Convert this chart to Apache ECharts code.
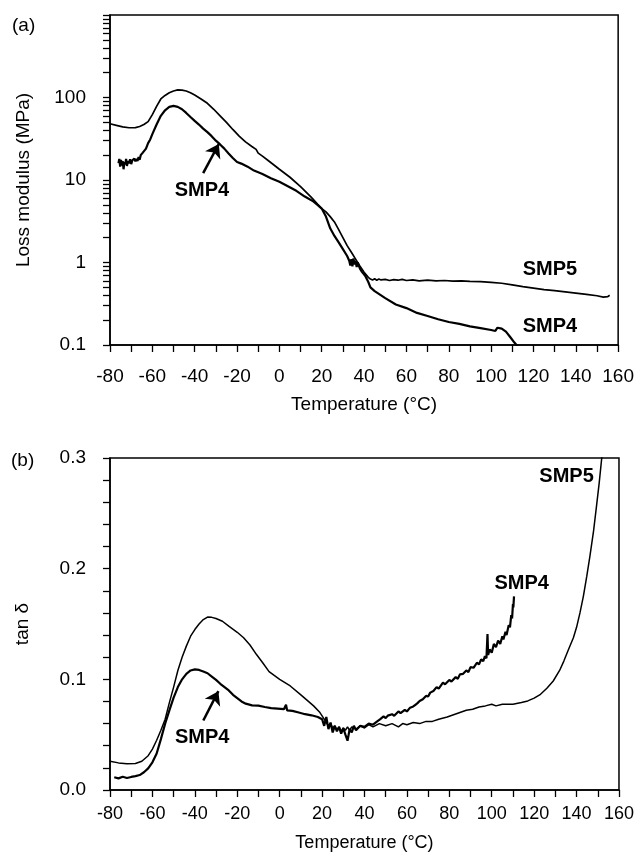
<!DOCTYPE html>
<html>
<head>
<meta charset="utf-8">
<script src="https://cdn.jsdelivr.net/npm/echarts@6/dist/echarts.min.js"></script>
<style>
  html, body { margin: 0; padding: 0; background: #fff; }
  #main { width: 637px; height: 857px; }
</style>
</head>
<body>
<div id="main"></div>
<script>
// (a) loss modulus, MPa, vs temperature
const smp5Modulus = [
  [-80, 48], [-77, 46], [-74, 44], [-71, 43], [-68, 43.2], [-66, 44.5], [-64, 47],
  [-62, 51], [-60, 62], [-58, 78], [-56, 96], [-54, 106], [-52, 114], [-50, 120],
  [-48, 123.5], [-46, 123], [-44, 120], [-42, 114], [-40, 107], [-37, 96], [-34, 85],
  [-31, 72], [-28, 60], [-25, 50], [-22, 41], [-19, 34], [-16, 29], [-13, 25.5],
  [-11, 23.5], [-10, 21.2], [-8, 19.5], [-5, 17], [0, 13.5], [5, 10.8], [10, 8.3],
  [15, 6.2], [18, 5.1], [20, 4.5], [22, 4.1], [24, 3.6], [26, 3.1], [28, 2.5],
  [30, 2.0], [32, 1.6], [34, 1.33], [36, 1.1], [38, 0.91], [40, 0.76], [42, 0.66],
  [43, 0.63], [44, 0.615], [45, 0.635], [46, 0.61], [47, 0.63], [48, 0.615],
  [50, 0.625], [52, 0.605], [54, 0.62], [56, 0.61], [58, 0.625], [60, 0.605],
  [63, 0.615], [66, 0.6], [70, 0.61], [74, 0.6], [78, 0.605], [82, 0.595], [86, 0.6],
  [90, 0.59], [95, 0.585], [100, 0.575], [105, 0.56], [110, 0.535], [115, 0.51],
  [120, 0.49], [125, 0.47], [130, 0.455], [135, 0.44], [140, 0.425], [145, 0.41],
  [150, 0.395], [153, 0.38], [155, 0.385], [156, 0.4]
];
const smp4Modulus = [
  [-76, 16], [-75.6, 18], [-75.2, 14.5], [-74.8, 17.5], [-74.4, 15], [-74, 17],
  [-73.6, 13.5], [-73.2, 16.5], [-72.8, 15.5], [-72.4, 18], [-72, 14.8], [-71.5, 17],
  [-71, 16], [-70.5, 17.8], [-70, 15.6], [-69.5, 17.2], [-69, 16.4], [-68.5, 18.2],
  [-68, 16.8], [-67.5, 18], [-67, 17], [-66.5, 19], [-66, 17.6], [-65.5, 20], [-65, 19],
  [-64.5, 21.5], [-64, 22], [-63, 24], [-62, 28], [-61, 31], [-60, 36], [-58, 47],
  [-56, 60], [-54, 70], [-52, 77], [-50, 79], [-48, 77], [-46, 72], [-44, 65],
  [-42, 58], [-40, 52], [-38, 47], [-36, 42], [-34, 38], [-32, 34], [-30, 30],
  [-28, 27], [-26, 24], [-24, 21], [-22, 18.5], [-20, 16.5], [-18, 15.8], [-15, 14.5],
  [-12, 13], [-8, 11.8], [-4, 10.5], [0, 9.5], [4, 8.4], [8, 7.4], [12, 6.3],
  [16, 5.5], [18, 5.0], [20, 4.5], [22, 3.6], [24, 2.6], [26, 2.1], [28, 1.75],
  [30, 1.45], [32, 1.2], [33, 1.05], [33.5, 0.92], [34, 1.1], [34.5, 0.9], [35, 1.12],
  [35.5, 0.95], [36, 1.05], [36.5, 0.88], [37, 1.0], [38, 0.85], [39, 0.77],
  [40.5, 0.69], [42, 0.58], [43, 0.5], [45, 0.45], [50, 0.37], [55, 0.31], [60, 0.28],
  [65, 0.245], [70, 0.225], [75, 0.205], [80, 0.19], [85, 0.18], [90, 0.168],
  [95, 0.16], [100, 0.152], [102, 0.148], [103, 0.162], [105, 0.158], [107, 0.145],
  [109, 0.125], [111, 0.107], [112, 0.1], [113, 0.095]
];

// (b) tan delta vs temperature
const smp5Tan = [
  [-80, 0.026], [-76, 0.0245], [-72, 0.0238], [-68, 0.024], [-65, 0.026], [-62, 0.031],
  [-60, 0.037], [-58, 0.045], [-56, 0.054], [-54, 0.064], [-52, 0.079], [-50, 0.093],
  [-48, 0.108], [-46, 0.12], [-44, 0.13], [-42, 0.139], [-40, 0.145], [-38, 0.15],
  [-36, 0.154], [-34, 0.1563], [-32, 0.156], [-30, 0.155], [-27, 0.1525], [-24, 0.148],
  [-20, 0.1425], [-17, 0.1376], [-14, 0.131], [-11, 0.1226], [-8, 0.115], [-5, 0.107],
  [0, 0.1], [5, 0.094], [10, 0.086], [13, 0.081], [16, 0.076], [19, 0.07], [21, 0.064],
  [22, 0.061], [23, 0.058], [24, 0.06], [25, 0.056], [26, 0.058], [27, 0.054],
  [28, 0.057], [29, 0.053], [30, 0.056], [31, 0.054], [32, 0.057], [33, 0.054],
  [34, 0.057], [36, 0.055], [38, 0.058], [40, 0.056], [42, 0.059], [44, 0.057],
  [47, 0.06], [50, 0.058], [53, 0.06], [56, 0.057], [58, 0.06], [60, 0.059],
  [63, 0.061], [66, 0.06], [69, 0.062], [72, 0.062], [75, 0.064], [79, 0.066],
  [82, 0.068], [85, 0.07], [88, 0.072], [91, 0.073], [94, 0.075], [97, 0.076],
  [100, 0.0775], [102, 0.076], [105, 0.0775], [110, 0.0775], [114, 0.079],
  [117, 0.0805], [120, 0.083], [123, 0.0865], [126, 0.092], [129, 0.0985],
  [132, 0.108], [134, 0.1165], [136, 0.126], [138.5, 0.1376], [140, 0.147],
  [141.6, 0.16], [143.2, 0.175], [144.8, 0.193], [146.3, 0.2114], [148, 0.234],
  [149.4, 0.2565], [150.7, 0.278], [151.8, 0.2987], [152, 0.302]
];
const smp4Tan = [
  [-78, 0.0115], [-76, 0.0105], [-74, 0.012], [-72, 0.0108], [-70, 0.0118],
  [-68, 0.0125], [-66, 0.0135], [-64, 0.016], [-62, 0.0195], [-60, 0.025],
  [-58, 0.033], [-56, 0.046], [-54, 0.06], [-52, 0.072], [-50, 0.0834], [-48, 0.093],
  [-46, 0.1], [-44, 0.105], [-42, 0.108], [-40, 0.109], [-38, 0.1085], [-36, 0.107],
  [-34, 0.1055], [-32, 0.1025], [-30, 0.0995], [-28, 0.096], [-26, 0.093], [-24, 0.09],
  [-22, 0.086], [-20, 0.083], [-18, 0.08], [-16, 0.078], [-13, 0.0765], [-10, 0.0762],
  [-7, 0.075], [-4, 0.074], [-1, 0.0735], [2, 0.073], [3, 0.077], [3.5, 0.072],
  [6, 0.0715], [9, 0.07], [12, 0.0685], [15, 0.0675], [18, 0.066], [20, 0.064],
  [21, 0.058], [22, 0.066], [23, 0.055], [24, 0.061], [25, 0.052], [26, 0.058],
  [27, 0.053], [28, 0.057], [29, 0.051], [30, 0.056], [31, 0.05], [32, 0.0445],
  [33, 0.055], [34, 0.052], [35, 0.058], [36, 0.054], [38, 0.058], [40, 0.057],
  [42, 0.06], [44, 0.059], [46, 0.062], [47.3, 0.0638], [49, 0.0665], [50, 0.065],
  [51, 0.0672], [53, 0.0685], [54, 0.067], [56, 0.071], [57, 0.0695], [59, 0.0725],
  [60, 0.071], [61.5, 0.0744], [63, 0.0755], [64, 0.077], [65, 0.0785], [66, 0.0804],
  [67.5, 0.082], [69, 0.085], [70, 0.0845], [71, 0.088], [72.5, 0.0895], [74, 0.093],
  [75, 0.0915], [77, 0.097], [78, 0.0955], [80, 0.0995], [81, 0.098], [83, 0.102],
  [84, 0.1005], [85, 0.1045], [86.5, 0.105], [88, 0.108], [89, 0.1065], [90, 0.111],
  [91.5, 0.1105], [93, 0.115], [94, 0.1135], [95, 0.118], [96, 0.1165], [96.8, 0.121],
  [97.5, 0.119], [98, 0.141], [98.3, 0.122], [99, 0.127], [100, 0.124], [101, 0.132],
  [102, 0.129], [103, 0.135], [104, 0.132], [105, 0.139], [105.5, 0.136],
  [106.5, 0.143], [107, 0.14], [108, 0.149], [108.6, 0.147], [109.2, 0.158],
  [109.6, 0.155], [110, 0.168], [110.2, 0.165], [110.5, 0.175]
];

const modDecades = [0.1, 1, 10, 100];
const modTicks = [];
[0.1, 1, 10, 100].forEach(d => {
  for (let k = 1; k <= 9; k++) modTicks.push(+(d * k).toPrecision(3));
});
modTicks.push(1000);

const font = "'Liberation Sans', Arial, sans-serif";
const black = "#000";

const chart = echarts.init(document.getElementById("main"));

const axisLine = { show: true, onZero: false, lineStyle: { color: black, width: 1.5 } };
const tick = { show: true, length: 7, lineStyle: { color: black, width: 1.3 } };

function tempAxis(grid, margin, gap, size) {
  return {
    type: "value",
    gridIndex: grid,
    min: -80,
    max: 160,
    interval: 10,
    name: "Temperature (°C)",
    nameLocation: "middle",
    nameGap: gap,
    nameTextStyle: { fontFamily: font, fontSize: size, color: black },
    axisLine: axisLine,
    axisTick: tick,
    splitLine: { show: false },
    axisLabel: {
      margin: margin,
      fontFamily: font,
      fontSize: size,
      color: black,
      formatter: v => (v % 20 === 0 ? String(v) : ""),
    },
  };
}

function label(text, coord) {
  return { name: text, coord: coord, symbolSize: 1 };
}

const markLabel = {
  show: true,
  position: "inside",
  formatter: "{b}",
  fontFamily: font,
  fontSize: 20,
  fontWeight: "bold",
  color: black,
};

function arrow(from, to) {
  return {
    silent: true,
    symbol: ["none", "arrow"],
    symbolSize: 13,
    label: { show: false },
    lineStyle: { color: black, width: 2.5, type: "solid" },
    emphasis: { disabled: true },
    data: [[{ coord: from }, { coord: to }]],
  };
}

function marks(items) {
  return {
    silent: true,
    symbol: "rect",
    itemStyle: { color: "rgba(0,0,0,0)" },
    label: markLabel,
    data: items,
  };
}

const option = {
  animation: false,
  backgroundColor: "#fff",
  textStyle: { fontFamily: font },
  graphic: [
    { type: "text", left: 12, top: 16, style: { text: "(a)", font: "19px " + font, fill: black } },
    { type: "text", left: 11, top: 451, style: { text: "(b)", font: "19px " + font, fill: black } },
  ],
  grid: [
    { left: 110, top: 15, width: 509, height: 330, show: true, borderColor: black, borderWidth: 1.5 },
    { left: 110, top: 458, width: 509, height: 332, show: true, borderColor: black, borderWidth: 1.5 },
  ],
  xAxis: [tempAxis(0, 22, 50, 19), tempAxis(1, 15, 44, 18)],
  yAxis: [
    {
      type: "log",
      logBase: 10,
      gridIndex: 0,
      min: 0.1,
      max: 1000,
      name: "Loss modulus (MPa)",
      nameLocation: "middle",
      nameGap: 77,
      nameTextStyle: { fontFamily: font, fontSize: 19, color: black },
      axisLine: axisLine,
      axisTick: Object.assign({}, tick, { customValues: modTicks }),
      minorTick: { show: false },
      splitLine: { show: false },
      axisLabel: {
        customValues: modDecades,
        margin: 24,
        fontFamily: font,
        fontSize: 19,
        color: black,
        formatter: v => String(v),
      },
    },
    {
      type: "value",
      gridIndex: 1,
      min: 0,
      max: 0.3,
      interval: 0.02,
      name: "tan δ",
      nameLocation: "middle",
      nameGap: 78,
      nameTextStyle: { fontFamily: font, fontSize: 19, color: black },
      axisLine: axisLine,
      axisTick: tick,
      splitLine: { show: false },
      axisLabel: {
        margin: 24,
        fontFamily: font,
        fontSize: 19,
        color: black,
        formatter: v => {
          const t = Math.round(v * 100);
          return t % 10 === 0 ? (t / 100).toFixed(1) : "";
        },
      },
    },
  ],
  series: [
    {
      name: "SMP5",
      type: "line",
      xAxisIndex: 0,
      yAxisIndex: 0,
      showSymbol: false,
      symbol: "none",
      lineStyle: { color: black, width: 1.7 },
      emphasis: { disabled: true },
      data: smp5Modulus,
      markPoint: marks([label("SMP5", [127.8, 0.83])]),
    },
    {
      name: "SMP4",
      type: "line",
      xAxisIndex: 0,
      yAxisIndex: 0,
      showSymbol: false,
      symbol: "none",
      lineStyle: { color: black, width: 2.2 },
      emphasis: { disabled: true },
      data: smp4Modulus,
      markPoint: marks([label("SMP4", [-36.6, 7.36]), label("SMP4", [127.8, 0.167])]),
      markLine: arrow([-36, 12.1], [-28.6, 27.3]),
    },
    {
      name: "SMP5 tan",
      type: "line",
      xAxisIndex: 1,
      yAxisIndex: 1,
      showSymbol: false,
      symbol: "none",
      lineStyle: { color: black, width: 1.5 },
      emphasis: { disabled: true },
      data: smp5Tan,
      markPoint: marks([label("SMP5", [135.3, 0.283])]),
    },
    {
      name: "SMP4 tan",
      type: "line",
      xAxisIndex: 1,
      yAxisIndex: 1,
      showSymbol: false,
      symbol: "none",
      lineStyle: { color: black, width: 2.2 },
      emphasis: { disabled: true },
      data: smp4Tan,
      markPoint: marks([label("SMP4", [-36.5, 0.0472]), label("SMP4", [114.1, 0.187])]),
      markLine: arrow([-36, 0.0628], [-28.9, 0.0893]),
    },
  ],
};

chart.setOption(option);
</script>
</body>
</html>
